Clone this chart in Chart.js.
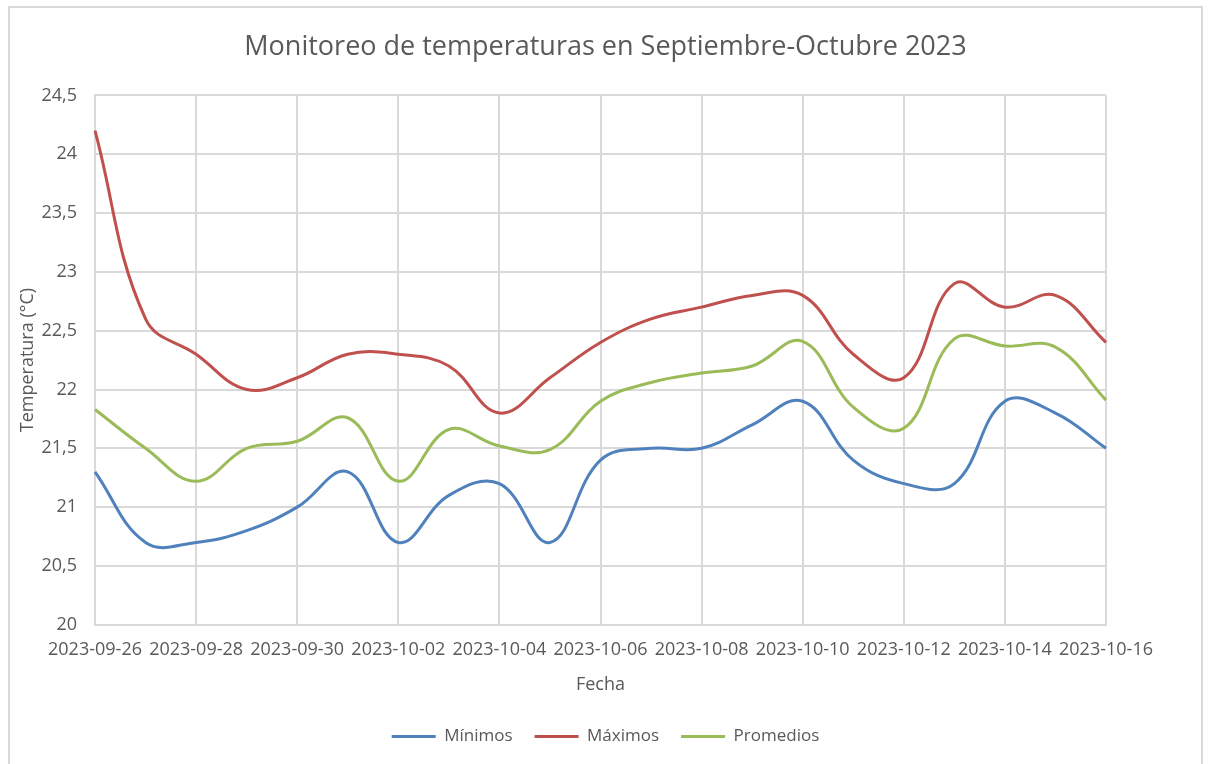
<!DOCTYPE html>
<html>
<head>
<meta charset="utf-8">
<script src="https://cdn.jsdelivr.net/npm/chart.js@4"></script>
<style>
  body { margin: 0; background: #fff; }
  .frame {
    position: absolute; left: 8px; top: 6px; width: 1195px; height: 770px;
    border: 2px solid #d9d9d9; box-sizing: border-box; background: #fff;
  }
  .wrap { position: absolute; left: 0; top: 0; width: 1210px; height: 764px; }
</style>
</head>
<body>
<div class="frame"></div>
<div class="wrap"><canvas class="my-chart" width="1210" height="764"></canvas></div>
<script>
const fechas = [
    "2023-09-26", "2023-09-27", "2023-09-28", "2023-09-29", "2023-09-30",
    "2023-10-01", "2023-10-02", "2023-10-03", "2023-10-04", "2023-10-05",
    "2023-10-06", "2023-10-07", "2023-10-08", "2023-10-09", "2023-10-10",
    "2023-10-11", "2023-10-12", "2023-10-13", "2023-10-14", "2023-10-15",
    "2023-10-16"
];
const minimos = [21.3, 20.7, 20.7, 20.8, 21.0, 21.3, 20.7, 21.1, 21.2, 20.7,
    21.4, 21.5, 21.5, 21.7, 21.9, 21.4, 21.2, 21.2, 21.9, 21.8, 21.5];
const maximos = [24.2, 22.6, 22.3, 22.0, 22.1, 22.3, 22.3, 22.2, 21.8, 22.1,
    22.4, 22.6, 22.7, 22.8, 22.8, 22.3, 22.1, 22.9, 22.7, 22.8, 22.4];
const promedios = [21.83, 21.5, 21.22, 21.5, 21.56, 21.76, 21.22, 21.66, 21.52, 21.49,
    21.9, 22.06, 22.14, 22.2, 22.41, 21.85, 21.67, 22.43, 22.37, 22.36, 21.91];

const font = "'Open Sans', 'Liberation Sans', sans-serif";
const gris = "#595959";
const rejilla = "#d9d9d9";

const serie = (label, data, color) => ({
    label: label,
    data: data,
    borderColor: color,
    backgroundColor: color,
    borderWidth: 3,
    pointRadius: 0,
    tension: 0.4,
    fill: false
});

const myChart = document.querySelector(".my-chart");

new Chart(myChart, {
    type: "line",
    data: {
        labels: fechas,
        datasets: [
            serie("Mínimos", minimos, "#4f81bd"),
            serie("Máximos", maximos, "#c0504d"),
            serie("Promedios", promedios, "#9bbb59")
        ]
    },
    options: {
        responsive: false,
        animation: false,
        layout: { padding: { left: 13, right: 12, top: 12, bottom: 9 } },
        plugins: {
            title: {
                display: true,
                text: "Monitoreo de temperaturas en Septiembre-Octubre 2023",
                color: gris,
                font: { family: font, size: 27, weight: "normal" },
                padding: { top: 19, bottom: 32 }
            },
            legend: {
                position: "bottom",
                labels: {
                    color: gris,
                    font: { family: font, size: 17 },
                    boxWidth: 44,
                    boxHeight: 0,
                    padding: 22
                }
            },
            tooltip: { enabled: false }
        },
        scales: {
            x: {
                grid: {
                    color: (ctx) => ctx.index % 2 === 0 ? rejilla : "transparent",
                    lineWidth: 2,
                    drawTicks: false
                },
                border: { color: rejilla, width: 2 },
                ticks: {
                    autoSkip: false,
                    maxRotation: 0,
                    color: gris,
                    padding: 14,
                    font: { family: font, size: 18 },
                    callback: (v, i) => i % 2 === 0 ? fechas[i] : ""
                },
                title: {
                    display: true,
                    text: "Fecha",
                    color: gris,
                    font: { family: font, size: 18 },
                    padding: { top: 0, bottom: 10 }
                }
            },
            y: {
                min: 20,
                max: 24.5,
                grid: { color: rejilla, lineWidth: 2, drawTicks: false },
                border: { color: rejilla, width: 2 },
                ticks: {
                    stepSize: 0.5,
                    color: gris,
                    padding: 18,
                    font: { family: font, size: 18 },
                    callback: (v) => String(v).replace(".", ",")
                },
                title: {
                    display: true,
                    text: "Temperatura (°C)",
                    color: gris,
                    font: { family: font, size: 18 },
                    padding: { top: 4, bottom: 0 }
                },
                afterFit: (s) => { s.width = 82; }
            },
            // empty right margin so the plot ends where the reference ends
            margen: {
                position: "right",
                grid: { drawOnChartArea: false, drawTicks: false },
                border: { display: false },
                ticks: { display: false },
                afterFit: (s) => { s.width = 92; }
            }
        }
    }
});
</script>
</body>
</html>
